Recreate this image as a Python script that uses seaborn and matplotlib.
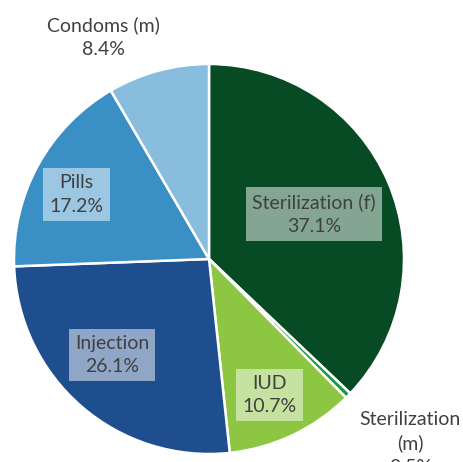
import numpy as np
import matplotlib
matplotlib.use('Agg')
import matplotlib.pyplot as plt
import seaborn as sns

# Данные: структура методов контрацепции
methods = ["Sterilization (f)", "Sterilization\n(m)", "IUD", "Injection", "Pills", "Condoms (m)"]
shares  = [37.1, 0.5, 10.7, 26.1, 17.2, 8.4]
colors  = ["#074B24", "#1A9A48", "#8DC642", "#1F4E8F", "#3A90C5", "#88BDDD"]

# Положение подписей: (доля радиуса, сдвиг угла в градусах, подложка)
label_style = [(0.585, 0, True), (1.40, 2.0, False), (0.763, -1.4, True),
               (0.70, -4.5, True), (0.756, 2.8, True), (1.26, 10.4, False)]

W, H = 464, 462
CX, CY, R = 209, H - 259, 195

sns.set_theme(style="white")
plt.rcParams['font.family'] = ['Lato', 'DejaVu Sans']

fig = plt.figure(figsize=(W / 100, H / 100), dpi=100)
ax = fig.add_axes([0, 0, 1, 1])

wedges, _ = ax.pie(shares, colors=colors, startangle=90, counterclock=False,
                   center=(CX, CY), radius=R, frame=True,
                   wedgeprops=dict(edgecolor="white", linewidth=1.8))
ax.set_xlim(0, W)
ax.set_ylim(0, H)
ax.set_aspect('equal')
ax.axis('off')

total = sum(shares)
start = 90.0
for name, val, (dist, dth, boxed) in zip(methods, shares, label_style):
    sweep = 360 * val / total
    mid = np.deg2rad(start - sweep / 2 + dth)
    start -= sweep
    x = CX + dist * R * np.cos(mid)
    y = CY + dist * R * np.sin(mid)
    bbox = dict(boxstyle="square,pad=0.32", facecolor="white", alpha=0.5,
                edgecolor="none") if boxed else None
    ax.text(x, y, f"{name}\n{val:.1f}%", ha="center", va="center",
            fontsize=14, color="#404040", bbox=bbox, linespacing=1.45)

fig.savefig("out.png", dpi=100)
